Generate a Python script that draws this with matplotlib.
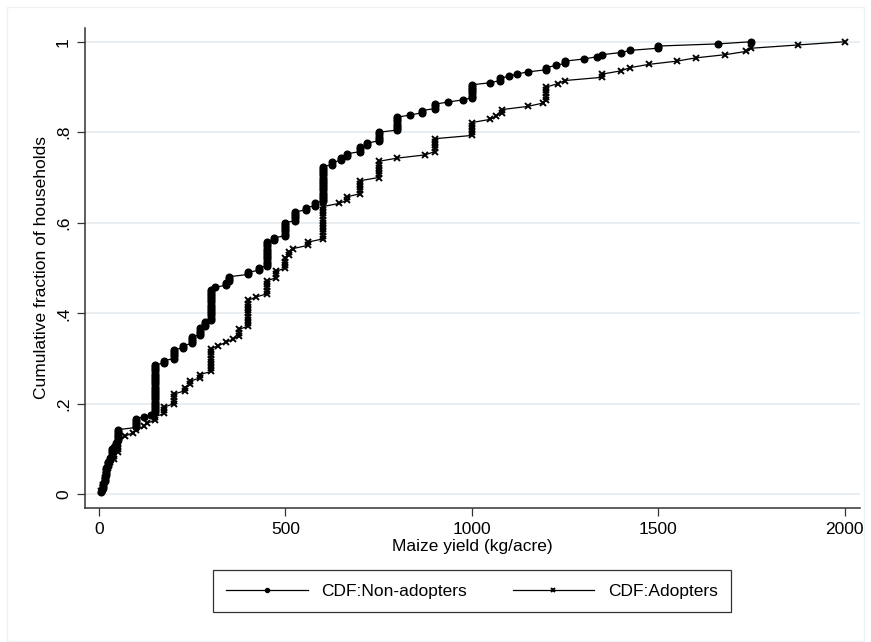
import numpy as np
import matplotlib.pyplot as plt
from matplotlib.patches import Rectangle

plt.rcParams['font.family'] = ['Liberation Sans', 'DejaVu Sans']

# Non-adopters: distinct maize yields (kg/acre) and number of households at each
non_yield = [5, 8, 10, 12, 15, 18, 20, 25, 30, 35, 40, 45, 50,
             100, 120, 140, 150, 175, 200, 225, 250, 270, 285, 300, 310,
             340, 350, 400, 430, 450, 470, 500, 525, 555, 580, 600, 625,
             650, 665, 700, 720, 750, 800, 835, 865, 900, 935, 975, 1000,
             1050, 1075, 1100, 1120, 1150, 1200, 1225, 1250, 1300, 1335,
             1350, 1400, 1425, 1500, 1660, 1750]
non_count = [1, 1, 2, 1, 3, 1, 3, 3, 2, 4, 1, 2, 6,
             5, 1, 1, 23, 2, 5, 2, 4, 4, 3, 15, 1,
             2, 3, 2, 2, 12, 2, 7, 5, 2, 2, 17, 2,
             2, 2, 3, 2, 5, 7, 1, 2, 3, 1, 1, 7,
             1, 2, 1, 1, 1, 2, 1, 2, 1, 1,
             1, 1, 1, 2, 1, 1]

# Adopters
ado_yield = [5, 10, 15, 20, 25, 30, 40, 50, 70, 90, 100, 120, 130, 150,
             175, 200, 230, 245, 270, 300, 320, 340, 360, 375, 400, 420,
             450, 475, 500, 510, 520, 560, 600, 645, 665, 700, 750, 800,
             875, 900, 1000, 1050, 1065, 1080, 1150, 1190, 1200, 1230,
             1250, 1350, 1400, 1425, 1475, 1550, 1600, 1680, 1735, 1750,
             1875, 2000]
ado_count = [1, 2, 2, 2, 2, 1, 2, 5, 1, 1, 1, 1, 1, 2,
             3, 4, 2, 2, 2, 8, 1, 1, 1, 3, 9, 1,
             5, 3, 4, 2, 1, 2, 11, 1, 2, 5, 6, 1,
             1, 5, 5, 1, 1, 2, 1, 1, 5, 1,
             1, 2, 1, 1, 1, 1, 1, 1, 1, 1,
             1, 1]


def cdf(values, counts):
    # each household gets its own rank / n, so ties stack vertically
    x = np.repeat(values, counts)
    y = np.arange(1, len(x) + 1) / len(x)
    return x, y


fig = plt.figure(figsize=(8.71, 6.42), dpi=100)
ax = fig.add_axes([85 / 871, 1 - 507.7 / 642, (860 - 85) / 871, (507.7 - 27.7) / 642])

xn, yn = cdf(non_yield, non_count)
xa, ya = cdf(ado_yield, ado_count)
ax.plot(xn, yn, color='black', lw=0.9, marker='o', ms=4.8, mec='black',
        mfc='black', label='CDF:Non-adopters')
ax.plot(xa, ya, color='black', lw=0.9, marker='x', ms=4.3, mew=1.4,
        label='CDF:Adopters')

ax.set_xlim(-37.5, 2041)
ax.set_ylim(-0.0296, 1.031)
ax.set_xticks([0, 500, 1000, 1500, 2000])
ax.set_yticks([0, 0.2, 0.4, 0.6, 0.8, 1.0])
ax.set_yticklabels(['0', '.2', '.4', '.6', '.8', '1'], rotation=90, va='center')
ax.tick_params(labelsize=12.5, length=6, width=0.9, color='#333333')
ax.tick_params(axis='y', pad=4)
ax.tick_params(axis='x', pad=4)
ax.yaxis.grid(True, color='#e8eef2', lw=1.4)
ax.set_axisbelow(True)
for s in ['top', 'right']:
    ax.spines[s].set_visible(False)
for s in ['left', 'bottom']:
    ax.spines[s].set_linewidth(1.1)
    ax.spines[s].set_color('#333333')

ax.set_xlabel('Maize yield (kg/acre)', fontsize=12.5, labelpad=2)
ax.set_ylabel('Cumulative fraction of households', fontsize=12.5, labelpad=5)

leg = fig.legend(loc='center', bbox_to_anchor=(472 / 871, 1 - 591 / 642),
                 ncol=2, fontsize=12.5, frameon=True, fancybox=False,
                 handlelength=4.7, handletextpad=0.8, columnspacing=2.6,
                 markerscale=0.6, borderpad=0.75, edgecolor='black')
leg.get_frame().set_linewidth(0.9)

fig.patches.append(Rectangle((7 / 871, 1 / 642), 857 / 871, 634 / 642,
                             transform=fig.transFigure, fill=False,
                             edgecolor='#eef2f5', lw=1.0))

fig.savefig('out.png', dpi=100)
